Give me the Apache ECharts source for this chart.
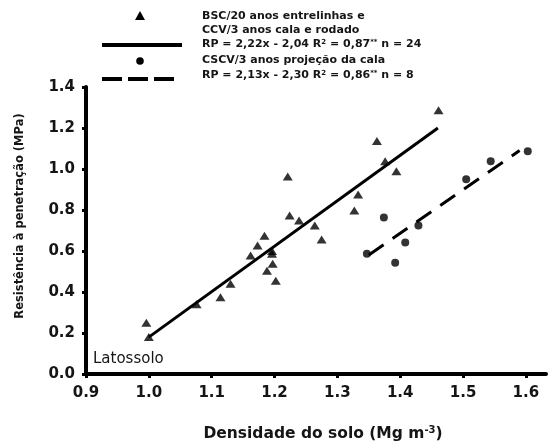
<!DOCTYPE html>
<html><head><meta charset="utf-8">
<script src="https://cdn.jsdelivr.net/npm/echarts@6/dist/echarts.min.js"></script>
<style>html,body{margin:0;padding:0;background:#fff}#c{width:548px;height:442px}</style>
</head><body><div id="c"></div>
<script>
// Data
const triX = [0.996, 1.0, 1.076, 1.114, 1.130, 1.162, 1.173, 1.184, 1.188, 1.196, 1.197, 1.202, 1.221, 1.224, 1.239, 1.264, 1.275, 1.327, 1.333, 1.363, 1.376, 1.394, 1.461, 1.196];
const triY = [0.25, 0.18, 0.34, 0.375, 0.44, 0.578, 0.627, 0.675, 0.504, 0.587, 0.538, 0.455, 0.964, 0.773, 0.749, 0.724, 0.656, 0.798, 0.876, 1.136, 1.038, 0.989, 1.287, 0.60];
const cirX = [1.347, 1.374, 1.392, 1.408, 1.429, 1.505, 1.544, 1.603];
const cirY = [0.587, 0.764, 0.543, 0.641, 0.724, 0.95, 1.038, 1.087];
const fit1X = [1.0, 1.46];
const fit1Y = [0.18, 1.20];
const fit2X = [1.35, 1.59];
const fit2Y = [0.58, 1.09];
const xTicks = [0.9, 1.0, 1.1, 1.2, 1.3, 1.4, 1.5, 1.6];
const legend1 = ['BSC/20 anos entrelinhas e', 'CCV/3 anos cala e rodado', 'RP = 2,22x - 2,04 R{sup|2} = 0,87{sup|**} n = 24'];
const legend2 = ['CSCV/3 anos projeção da cala', 'RP = 2,13x - 2,30 R{sup|2} = 0,86{sup|**} n = 8'];
const xTitle = 'Densidade do solo (Mg m{sup|-3})';
const yTitle = 'Resistência à penetração (MPa)';

const zip = (a, b) => a.map((v, i) => [v, b[i]]);
const FONT = 'DejaVu Sans';
const TXT = '#151515';

const chart = echarts.init(document.getElementById('c'), null, {renderer: 'canvas'});
const legText = (t, x, y) => ({
  type: 'text', left: x, top: y,
  style: {
    text: t, fill: TXT, font: 'bold 11px "' + FONT + '"',
    rich: {sup: {fontSize: 7, fontWeight: 'bold', fontFamily: FONT, fill: TXT, verticalAlign: 'top', padding: [0,0,4,0]}}
  }
});
chart.setOption({
  animation: false,
  grid: {left: 86, right: 2, top: 87, bottom: 68},
  xAxis: {
    type: 'value', min: 0.9, max: 1.632,
    axisLine: {lineStyle: {color: '#000', width: 4}},
    axisTick: {show: true, length: 4, lineStyle: {color: '#000', width: 3}, customValues: xTicks},
    axisLabel: {customValues: xTicks, formatter: v => v.toFixed(1), color: TXT, fontFamily: FONT, fontWeight: 'bold', fontSize: 15, margin: 12},
    splitLine: {show: false}
  },
  yAxis: {
    type: 'value', min: 0, max: 1.4, interval: 0.2,
    axisLine: {show: true, lineStyle: {color: '#000', width: 4}},
    axisTick: {show: true, length: 4, lineStyle: {color: '#000', width: 3}},
    axisLabel: {formatter: v => v.toFixed(1), color: TXT, fontFamily: FONT, fontWeight: 'bold', fontSize: 15, margin: 11},
    splitLine: {show: false}
  },
  graphic: [
    {type: 'polygon', shape: {points: [[140, 11], [145, 20], [135, 20]]}, style: {fill: '#000'}},
    legText(legend1[0], 202, 11),
    legText(legend1[1], 202, 25),
    {type: 'line', shape: {x1: 102, y1: 45, x2: 182, y2: 45}, style: {stroke: '#000', lineWidth: 4}},
    legText(legend1[2], 202, 39),
    {type: 'circle', shape: {cx: 140, cy: 61, r: 3.8}, style: {fill: '#000'}},
    legText(legend2[0], 202, 55),
    {type: 'line', shape: {x1: 102, y1: 79, x2: 175, y2: 79}, style: {stroke: '#000', lineWidth: 4, lineDash: [20, 6]}},
    legText(legend2[1], 202, 70),
    {type: 'text', left: 93, top: 352, style: {text: 'Latossolo', fill: TXT, font: '15px "' + FONT + '"'}},
    {type: 'text', x: 323, y: 434, style: {text: xTitle, fill: TXT, font: 'bold 15.5px "' + FONT + '"', align: 'center', verticalAlign: 'middle',
      rich: {sup: {fontSize: 10, fontWeight: 'bold', fontFamily: FONT, fill: TXT, verticalAlign: 'top', padding: [0,0,7,0]}}}},
    {type: 'text', x: 20, y: 216, rotation: Math.PI / 2, style: {text: yTitle, fill: TXT, font: 'bold 11.5px "' + FONT + '"', align: 'center', verticalAlign: 'middle'}}
  ],
  series: [
    {type: 'line', data: zip(fit1X, fit1Y), symbol: 'none', lineStyle: {color: '#000', width: 3}, z: 1},
    {type: 'line', data: zip(fit2X, fit2Y), symbol: 'none', lineStyle: {color: '#000', width: 3, type: [18, 11]}, z: 1},
    {type: 'scatter', data: zip(triX, triY), symbol: 'triangle', symbolSize: [10, 8], itemStyle: {color: '#000'}, z: 3},
    {type: 'scatter', data: zip(cirX, cirY), symbol: 'circle', symbolSize: 8, itemStyle: {color: '#000'}, z: 3}
  ]
});
</script></body></html>
